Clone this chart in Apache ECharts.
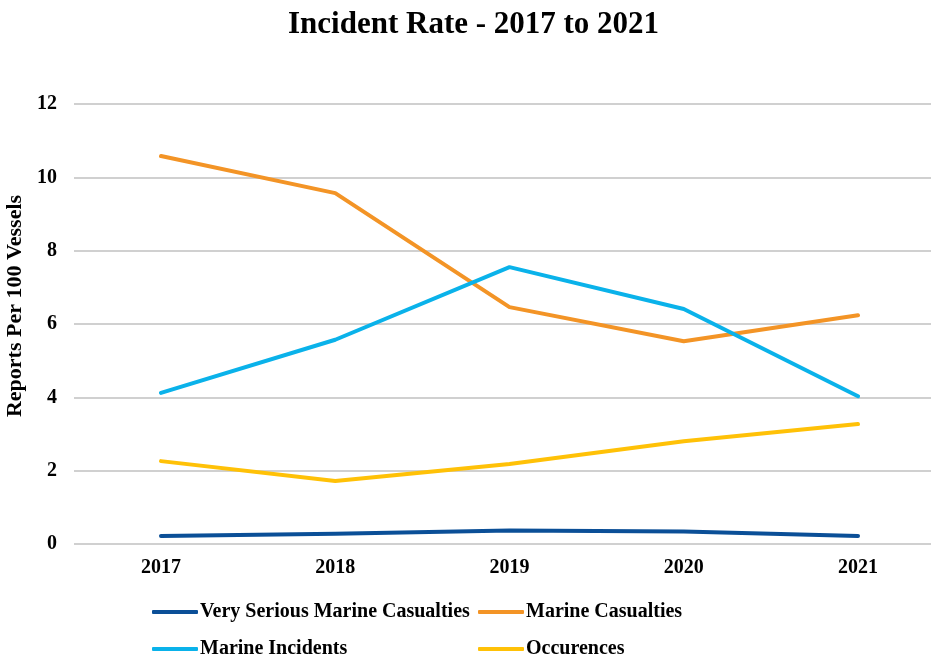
<!DOCTYPE html>
<html>
<head>
<meta charset="utf-8">
<script src="https://cdn.jsdelivr.net/npm/echarts@6/dist/echarts.min.js"></script>
<style>
html,body{margin:0;padding:0;background:#fff;}
#chart{width:931px;height:654px;}
</style>
</head>
<body>
<div id="chart"></div>
<script>
// Reporting years
const years = ['2017', '2018', '2019', '2020', '2021'];
// Reports per 100 vessels, by category
const verySerious = [0.22, 0.28, 0.37, 0.34, 0.22];
const marineCasualties = [10.58, 9.57, 6.46, 5.53, 6.24];
const marineIncidents = [4.12, 5.57, 7.55, 6.41, 4.03];
const occurences = [2.26, 1.72, 2.18, 2.8, 3.27];
const yTicks = { min: 0, max: 12, interval: 2 };

const font = 'Liberation Serif, Times New Roman, serif';
const PLOT_TOP = 104, PLOT_H = 440;

function series(name, data, color) {
  return {
    name: name,
    type: 'line',
    xAxisIndex: 1,
    yAxisIndex: 1,
    data: data,
    symbol: 'none',
    lineStyle: { width: 4, color: color, cap: 'round', join: 'round' },
    itemStyle: { color: color }
  };
}

// one legend entry per component so the two columns line up
function legendItem(name, left, top) {
  return {
    left: left, top: top,
    itemWidth: 46, itemHeight: 4, icon: 'roundRect',
    textStyle: { fontFamily: font, fontSize: 20, fontWeight: 'bold', color: '#000', lineHeight: 18, padding: [0, 0, 0, -3] },
    data: [name]
  };
}

const chart = echarts.init(document.getElementById('chart'));
chart.setOption({
  backgroundColor: '#fff',
  animation: false,
  title: {
    text: 'Incident Rate - 2017 to 2021',
    left: 283,
    top: 4,
    textStyle: { fontFamily: font, fontSize: 31, fontWeight: 'bold', color: '#000' }
  },
  legend: [
    legendItem('Very Serious Marine Casualties', 147, 597),
    legendItem('Marine Casualties', 473, 597),
    legendItem('Marine Incidents', 147, 634),
    legendItem('Occurences', 473, 634)
  ],
  // grid 0 carries the value scale and its gridlines across the full width;
  // grid 1 spaces the years and holds the lines
  grid: [
    { left: 74, right: 0, top: PLOT_TOP, height: PLOT_H, containLabel: false, outerBoundsMode: 'none' },
    { left: 161, right: 73, top: PLOT_TOP, height: PLOT_H, containLabel: false, outerBoundsMode: 'none' }
  ],
  xAxis: [
    {
      gridIndex: 0, type: 'category', data: years, show: false
    },
    {
      gridIndex: 1,
      type: 'category',
      data: years,
      boundaryGap: false,
      axisLine: { show: false },
      axisTick: { show: false },
      splitLine: { show: false },
      axisLabel: { margin: 14, fontFamily: font, fontSize: 20, fontWeight: 'bold', color: '#000' }
    }
  ],
  yAxis: [
    {
      gridIndex: 0,
      type: 'value',
      min: yTicks.min, max: yTicks.max, interval: yTicks.interval,
      name: 'Reports Per 100 Vessels',
      nameLocation: 'middle',
      nameGap: 41,
      nameTextStyle: { fontFamily: font, fontSize: 22, fontWeight: 'bold', color: '#000', padding: [0, 0, 0, 36] },
      axisLine: { show: false },
      axisTick: { show: false },
      splitLine: { lineStyle: { color: '#d0d0d0', width: 2 } },
      axisLabel: { margin: 17, fontFamily: font, fontSize: 20, fontWeight: 'bold', color: '#000' }
    },
    {
      gridIndex: 1,
      type: 'value',
      min: yTicks.min, max: yTicks.max, interval: yTicks.interval,
      show: false,
      splitLine: { show: false }
    }
  ],
  series: [
    series('Very Serious Marine Casualties', verySerious, '#0B4F97'),
    series('Marine Casualties', marineCasualties, '#F39426'),
    series('Marine Incidents', marineIncidents, '#0AB2EA'),
    series('Occurences', occurences, '#FFC107')
  ]
});
</script>
</body>
</html>
